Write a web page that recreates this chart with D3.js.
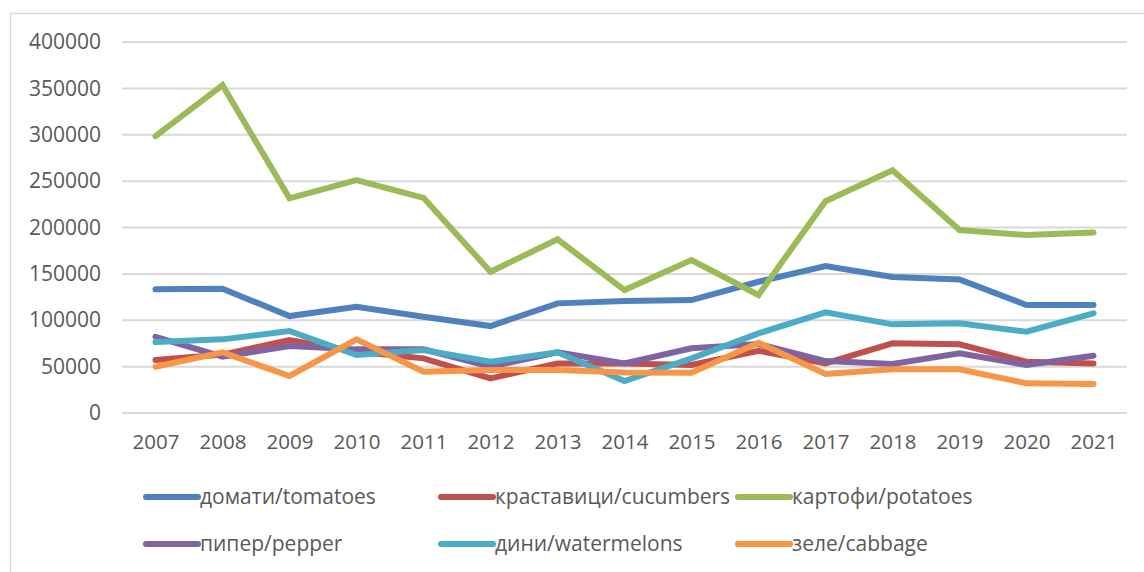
<!DOCTYPE html>
<html>
<head>
<meta charset="utf-8">
<script src="https://cdn.jsdelivr.net/npm/d3@7"></script>
<style>
  body { margin: 0; background: #fff; }
  svg { display: block; }
  text { font-family: "Open Sans", sans-serif; fill: #595959; }
</style>
</head>
<body>
<svg id="chart" width="1144" height="572"></svg>
<script>
const years = ["2007","2008","2009","2010","2011","2012","2013","2014","2015","2016","2017","2018","2019","2020","2021"];
const tomatoes = [133300,134000,104500,114600,103800,93700,118200,120700,121800,141500,158500,146600,144000,116400,116400];
const cucumbers = [57100,63000,78700,66000,58900,37400,53500,53500,51700,67100,53500,75100,74000,55300,53500];
const potatoes = [298500,353400,231400,251100,232000,152300,187200,132500,164900,127200,228300,261800,197200,191800,194700];
const pepper = [82200,60700,72200,68600,68600,49900,65400,53500,69700,74400,56000,52800,64300,51700,61700];
const watermelons = [76500,79400,88400,62500,67900,55300,65400,34500,58900,85900,108500,95600,96700,87600,107400];
const cabbage = [49900,65400,39900,79400,44500,46300,46300,43800,43400,75800,42000,47100,47100,32000,31300];
const seriesNames = ["домати/tomatoes","краставици/cucumbers","картофи/potatoes","пипер/pepper","дини/watermelons","зеле/cabbage"];
const seriesColours = ["#4f81bd","#c0504d","#9bbb59","#8064a2","#4bacc6","#f79646"];
const yTicks = [0,50000,100000,150000,200000,250000,300000,350000,400000];

const series = [tomatoes, cucumbers, potatoes, pepper, watermelons, cabbage].map((values, i) => ({
    name: seriesNames[i],
    colour: seriesColours[i],
    values: values.map((v, j) => ({ year: years[j], value: v }))
}));

const svg = d3.select("#chart");

// outer chart frame
svg.append("rect")
    .attr("x", 10.5).attr("y", 13.5)
    .attr("width", 1200).attr("height", 600)
    .attr("fill", "none")
    .attr("stroke", "#d9d9d9")
    .attr("stroke-width", 1.5);

const plot = { left: 122, right: 1127, top: 42, bottom: 413 };

const xScale = d3.scalePoint().domain(years).range([plot.left, plot.right]).padding(0.5);
const yScale = d3.scaleLinear().domain([0, 400000]).range([plot.bottom, plot.top]);

// gridlines
svg.selectAll(".grid-line")
    .data(yTicks)
    .join("line")
    .attr("class", "grid-line")
    .attr("x1", plot.left).attr("x2", plot.right)
    .attr("y1", d => yScale(d)).attr("y2", d => yScale(d))
    .attr("stroke", "#d9d9d9")
    .attr("stroke-width", 2);

// y axis labels
const yAxis = d3.axisLeft(yScale).tickValues(yTicks).tickSize(0).tickPadding(0).tickFormat(d3.format("d"));
const yAxisG = svg.append("g").attr("transform", "translate(101,0)").call(yAxis);
yAxisG.select(".domain").remove();
yAxisG.selectAll("text").attr("font-size", 21).attr("fill", "#595959").attr("font-family", "Open Sans, sans-serif");

// x axis labels
const xAxis = d3.axisBottom(xScale).tickSize(0).tickPadding(0);
const xAxisG = svg.append("g").attr("transform", "translate(0,434)").call(xAxis);
xAxisG.select(".domain").remove();
xAxisG.selectAll("text").attr("font-size", 20.5).attr("fill", "#595959").attr("font-family", "Open Sans, sans-serif");

const line = d3.line()
    .x(d => xScale(d.year))
    .y(d => yScale(d.value));

svg.selectAll(".series-line")
    .data(series)
    .join("path")
    .attr("class", "series-line")
    .attr("fill", "none")
    .attr("stroke", d => d.colour)
    .attr("stroke-width", 6)
    .attr("stroke-linecap", "round")
    .attr("stroke-linejoin", "miter")
    .attr("d", d => line(d.values));

// legend
const legendCols = [146, 441, 738];
const legendRows = [497, 544];
const legend = svg.selectAll(".legend-item")
    .data(series)
    .join("g")
    .attr("class", "legend-item")
    .attr("transform", (d, i) => `translate(${legendCols[i % 3]},${legendRows[Math.floor(i / 3)]})`);

legend.append("line")
    .attr("x1", 0).attr("x2", 52)
    .attr("y1", 0).attr("y2", 0)
    .attr("stroke", d => d.colour)
    .attr("stroke-width", 6)
    .attr("stroke-linecap", "round");

legend.append("text")
    .attr("x", 54)
    .attr("y", 7)
    .attr("font-size", 21)
    .text(d => d.name);
</script>
</body>
</html>
